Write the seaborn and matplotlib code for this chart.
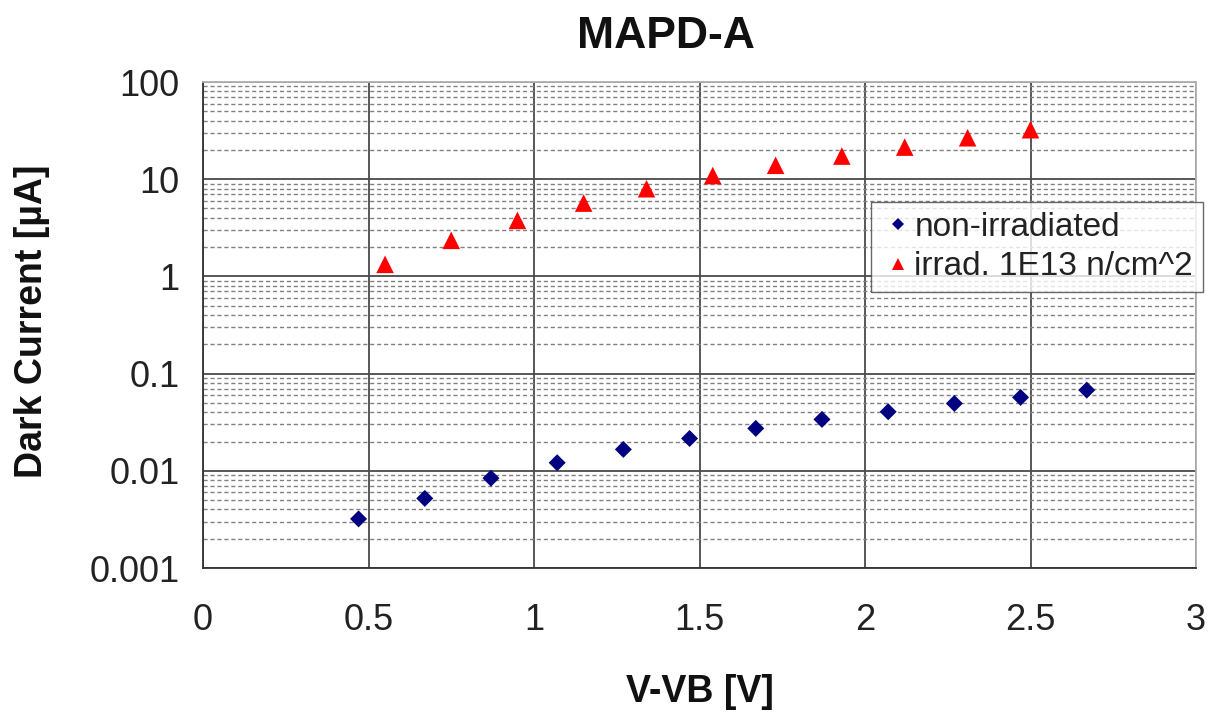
import numpy as np
import pandas as pd
import seaborn as sns
import matplotlib
import matplotlib.pyplot as plt
from matplotlib.ticker import LogLocator, FixedLocator, FixedFormatter

matplotlib.use("Agg")

# data
volts_non_irr = [0.47, 0.67, 0.87, 1.07, 1.27, 1.47, 1.67, 1.87, 2.07, 2.27, 2.47, 2.67]
current_non_irr = [0.0032, 0.0052, 0.0084, 0.0121, 0.0166, 0.0215, 0.0273, 0.0338,
                   0.0405, 0.0493, 0.0569, 0.0676]
volts_irr = [0.55, 0.75, 0.95, 1.15, 1.34, 1.54, 1.73, 1.93, 2.12, 2.31, 2.50]
current_irr = [1.33, 2.35, 3.77, 5.68, 7.98, 10.9, 13.9, 17.3, 21.4, 26.7, 32.3]

series_names = ["non-irradiated", "irrad. 1E13 n/cm^2"]
x_ticks = [0, 0.5, 1, 1.5, 2, 2.5, 3]
x_tick_labels = ["0", "0.5", "1", "1.5", "2", "2.5", "3"]
y_ticks = [0.001, 0.01, 0.1, 1, 10, 100]
y_tick_labels = ["0.001", "0.01", "0.1", "1", "10", "100"]

data = pd.concat([
    pd.DataFrame({"V": volts_non_irr, "I": current_non_irr, "Series": series_names[0]}),
    pd.DataFrame({"V": volts_irr, "I": current_irr, "Series": series_names[1]}),
])

sns.set_style("white")
plt.rcParams["font.family"] = ["Liberation Sans", "DejaVu Sans"]

fig = plt.figure(figsize=(12.12, 7.13), dpi=100)
ax = fig.add_axes([203 / 1212, 1 - 568 / 713, (1196 - 203) / 1212, (568 - 82) / 713])

sns.scatterplot(
    data=data, x="V", y="I", hue="Series", style="Series", size="Series",
    hue_order=series_names, style_order=series_names, size_order=series_names,
    palette={series_names[0]: "#000080", series_names[1]: "#ff0000"},
    markers={series_names[0]: "D", series_names[1]: "^"},
    sizes={series_names[0]: 75, series_names[1]: 160},
    linewidth=0, ax=ax, zorder=3, legend=True,
)

ax.set_yscale("log")
ax.set_xlim(0, 3)
ax.set_ylim(0.001, 100)

ax.xaxis.set_major_locator(FixedLocator(x_ticks))
ax.xaxis.set_major_formatter(FixedFormatter(x_tick_labels))
ax.yaxis.set_major_locator(FixedLocator(y_ticks))
ax.yaxis.set_major_formatter(FixedFormatter(y_tick_labels))
ax.yaxis.set_minor_locator(LogLocator(base=10, subs=np.arange(2, 10), numticks=20))
ax.yaxis.set_minor_formatter(FixedFormatter([]))

ax.grid(which="major", axis="both", color="#4a4a4a", linestyle="-", linewidth=1.3, zorder=1)
ax.grid(which="minor", axis="y", color="#808080", linestyle=(0, (3, 2)), linewidth=1.0, zorder=1)
ax.set_axisbelow(True)

ax.tick_params(axis="both", which="major", direction="out", length=9, width=1.3,
               color="#333333", labelsize=26, labelcolor="#222222", pad=8)
ax.tick_params(axis="y", which="minor", length=0)
ax.tick_params(axis="x", pad=16)

for side in ["left", "bottom"]:
    ax.spines[side].set_color("#333333")
    ax.spines[side].set_linewidth(1.3)
for side in ["top", "right"]:
    ax.spines[side].set_color("#b0b0b0")
    ax.spines[side].set_linewidth(1.3)

ax.set_xlabel("")
ax.set_ylabel("")
fig.text(700 / 1212, 1 - 692 / 713, "V-VB [V]", ha="center", va="center",
         fontsize=27, fontweight="bold", color="#111111")
fig.text(32 / 1212, 1 - 321 / 713, "Dark Current [\u00b5A]", ha="center", va="center",
         rotation=90, fontsize=27, fontweight="bold", color="#111111")
fig.text(666 / 1212, 1 - 36 / 713, "MAPD-A", ha="center", va="center",
         fontsize=32, fontweight="bold", color="#111111")

leg = ax.legend(
    loc="upper right", bbox_to_anchor=(1203 / 1212, 1 - 202 / 713),
    bbox_transform=fig.transFigure, borderaxespad=0, frameon=True, fancybox=False,
    fontsize=24, handletextpad=0.0, handlelength=1.0, borderpad=0.3,
    labelspacing=0.25, markerscale=0.7,
)
leg.get_frame().set_edgecolor("#444444")
leg.get_frame().set_linewidth(1.0)
for t in leg.get_texts():
    t.set_color("#222222")

fig.savefig("out.png", dpi=100)
